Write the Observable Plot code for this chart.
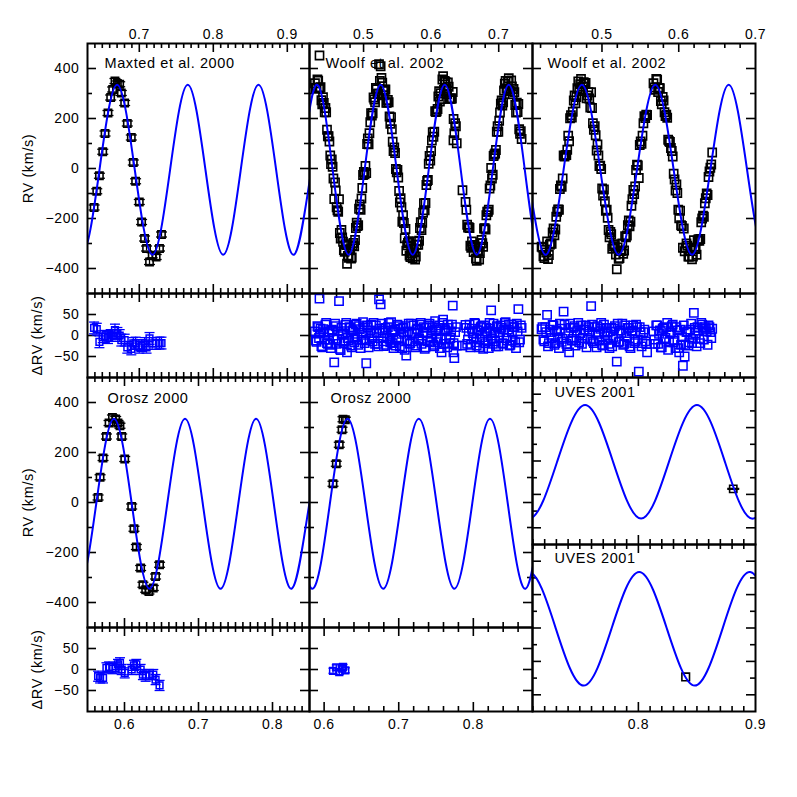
<!DOCTYPE html>
<html><head><meta charset="utf-8">
<script src="https://cdn.jsdelivr.net/npm/d3@7"></script>
<script src="https://cdn.jsdelivr.net/npm/@observablehq/plot@0.6"></script>
<style>
body{margin:0;background:#fff;}
#fig{position:relative;width:797px;height:797px;background:#fff;overflow:hidden;}
#fig svg{position:absolute;}
</style></head><body><div id="fig"></div>
<script>
// ---------- tick labels ----------
const rvLabels = [-400, -200, 0, 200, 400];
const rvMinor = [-300, -100, 100, 300];
const resLabels = [-50, 0, 50];
const topLabelsCol1 = [0.7, 0.8, 0.9];
const topLabelsCol2 = [0.5, 0.6, 0.7];
const topLabelsCol3 = [0.5, 0.6, 0.7];
const bottomLabelsCol1 = [0.6, 0.7, 0.8];
const bottomLabelsCol2 = [0.6, 0.7, 0.8];
const bottomLabelsCol3 = [0.8, 0.9];

// ---------- Maxted et al. 2000 ----------
const maxtedX = [0.6389,0.6425,0.6461,0.6506,0.6537,0.6577,0.6613,0.6640,0.6671,0.6704,0.6735,0.6757,0.6802,0.6838,0.6892,0.6919,0.6950,0.7000,0.7031,0.7071,0.7098,0.7138,0.7174,0.7228,0.7273,0.7300];
const maxtedRV = [-156,-91,-29,67,140,222,284,316,350,340,337,302,262,180,124,24,-51,-134,-214,-280,-320,-374,-347,-354,-320,-264];
const maxtedRes = [18,15,-15,-3,-2,-5,0,0,13,5,0,-11,-11,-28,-32,-19,-18,-28,-24,-19,-28,-7,-19,-19,-18,-18];
const maxtedErrRV = 10, maxtedErrRes = 14;

// ---------- Woolf et al. 2002 (middle column) ----------
const woolfAX = [0.4281,0.4305,0.4329,0.4352,0.4376,0.4400,0.4424,0.4447,0.4471,0.4495,0.4518,0.4542,0.4566,0.4589,0.4613,0.4637,0.4661,0.4684,0.4708,0.4732,0.4755,0.4779,0.4803,0.4826,0.4850,0.4874,0.4898,0.4921,0.4945,0.4969,0.4992,0.5016,0.5040,0.5063,0.5087,0.5111,0.5135,0.5158,0.5182,0.5206,0.5229,0.5253,0.5277,0.5300,0.5324,0.5348,0.5372,0.5395,0.5419,0.5443,0.5466,0.5490,0.5514,0.5537,0.5561,0.5585,0.5609,0.5632,0.5656,0.5680,0.5703,0.5727,0.5751,0.5774,0.5798,0.5822,0.5846,0.5869,0.5893,0.5917,0.5940,0.5964,0.5988,0.6011,0.6035,0.6059,0.6083,0.6106,0.6130,0.6154,0.6177,0.6201,0.6225,0.6248,0.6272,0.6296,0.6320,0.6343,0.6367,0.6509,0.6533,0.6557,0.6580,0.6604,0.6628,0.6651,0.6675,0.6699,0.6722,0.6746,0.6770,0.6794,0.6817,0.6841,0.6865,0.6888,0.6912,0.6936,0.6959,0.6983,0.7007,0.7031,0.7054,0.7078,0.7102,0.7125,0.7149,0.7173,0.7196,0.7220,0.7244,0.7268,0.7291,0.7315,0.7339,0.4348,0.6330,0.6464,
  0.4293,0.4317,0.4341,0.4364,0.4388,0.4412,0.4436,0.4459,0.4483,0.4507,0.4530,0.4554,0.4578,0.4601,0.4625,0.4649,0.4673,0.4696,0.4720,0.4744,0.4767,0.4791,0.4815,0.4838,0.4862,0.4886,0.4910,0.4933,0.4957,0.4981,0.5004,0.5028,0.5052,0.5075,0.5099,0.5123,0.5147,0.5170,0.5194,0.5218,0.5241,0.5265,0.5289,0.5312,0.5336,0.5360,0.5384,0.5407,0.5431,0.5455,0.5478,0.5502,0.5526,0.5549,0.5573,0.5597,0.5621,0.5644,0.5668,0.5692,0.5715,0.5739,0.5763,0.5786,0.5810,0.5834,0.5858,0.5881,0.5905,0.5929,0.5952,0.5976,0.6000,0.6023,0.6047,0.6071,0.6095,0.6118,0.6142,0.6166,0.6189,0.6213,0.6237,0.6260,0.6284,0.6308,0.6332,0.6355,0.6379,0.6521,0.6545,0.6569,0.6592,0.6616,0.6640,0.6663,0.6687,0.6711,0.6734,0.6758,0.6782,0.6806,0.6829,0.6853,0.6877,0.6900,0.6924,0.6948,0.6971,0.6995,0.7019,0.7043,0.7066,0.7090,0.7114,0.7137,0.7161,0.7185,0.7208,0.7232,0.7256,0.7280,0.7303,0.7327];
const woolfARV = [341,320,351,323,273,285,225,225,129,108,18,7,-122,-88,-167,-123,-280,-276,-326,-303,-381,-357,-323,-356,-298,-286,-217,-227,-144,-120,-26,-23,-18,120,141,221,221,276,322,298,417,409,343,293,316,264,265,179,157,70,62,-15,-36,-136,-155,-187,-279,-329,-298,-348,-313,-359,-335,-352,-292,-289,-215,-217,-139,-138,-50,19,32,112,127,229,229,288,268,278,369,350,321,344,280,280,306,141,169,-134,-225,-235,-309,-292,-334,-313,-369,-329,-338,-286,-313,-239,-187,-173,-80,2,-25,56,74,169,191,259,252,312,350,319,361,309,328,318,254,263,258,139,118,452,113,-87,
  322,356,320,325,257,262,242,155,129,52,36,-40,-56,-155,-173,-258,-246,-293,-333,-306,-350,-324,-360,-307,-311,-238,-230,-161,-165,-78,-14,10,98,97,185,212,284,265,317,300,350,362,312,315,263,274,208,205,107,84,-2,-6,-90,-119,-213,-218,-242,-307,-291,-354,-340,-320,-364,-305,-305,-238,-246,-177,-167,-66,-46,50,70,145,147,226,238,309,301,356,314,346,298,327,279,280,198,181,101,-165,-236,-238,-317,-313,-306,-360,-332,-364,-299,-299,-240,-244,-173,-165,-68,-40,50,60,147,147,224,272,265,339,320,348,310,352,297,305,224,226,157,149];
const woolfARes = [10,-15,20,5,-25,15,-10,30,-20,8,-30,12,-64,22,-8,82,-35,5,-18,25,-40,-12,18,-28,10,-5,28,-22,15,-10,32,-18,-66,20,-8,26,-14,6,24,-20,86,74,12,-25,18,-6,30,-16,8,-30,14,-10,22,-26,4,18,-34,-48,10,-20,28,-14,6,-24,16,-8,30,-12,20,-28,8,24,-16,12,-22,34,-6,18,-30,-40,38,15,-10,26,-18,10,71,-54,20,25,-20,10,-28,16,-6,28,-24,12,-10,22,-32,6,18,-14,30,60,-20,8,-26,20,-4,24,-18,14,32,-12,26,-22,10,20,-16,28,63,-10,18,88,-40,-24,
  -12,22,-6,16,-28,8,26,-18,4,-22,14,-8,28,-20,10,-32,18,2,-14,30,-6,20,-24,12,-16,26,-4,22,-30,6,18,-12,24,-28,12,-4,30,-20,8,-26,16,28,-14,6,-22,20,-8,32,-18,10,-24,26,-6,16,-30,8,22,-12,28,-18,4,24,-28,14,-10,26,-20,6,-32,18,-14,28,-4,20,-26,10,-16,24,-8,30,-20,12,-28,18,-6,26,-18,8,-24,18,-10,26,-22,6,30,-16,12,-28,20,-4,24,-18,10,-30,16,-8,28,-14,22,-26,8,18,-20,30,-6,14,-24,26,-12,20,-30,10,-16,24];

// ---------- Woolf et al. 2002 (right column) ----------
const woolfBX = [0.4213,0.4237,0.4261,0.4285,0.4309,0.4333,0.4357,0.4381,0.4404,0.4428,0.4452,0.4476,0.4500,0.4524,0.4548,0.4572,0.4596,0.4620,0.4643,0.4667,0.4691,0.4715,0.4739,0.4763,0.4787,0.4811,0.4835,0.4859,0.4882,0.4906,0.4930,0.4954,0.4978,0.5002,0.5026,0.5050,0.5074,0.5098,0.5121,0.5145,0.5169,0.5193,0.5217,0.5241,0.5265,0.5289,0.5313,0.5337,0.5360,0.5384,0.5408,0.5432,0.5456,0.5480,0.5504,0.5528,0.5552,0.5576,0.5671,0.5695,0.5719,0.5743,0.5767,0.5791,0.5815,0.5838,0.5862,0.5886,0.5910,0.5934,0.5958,0.5982,0.6006,0.6030,0.6054,0.6077,0.6101,0.6125,0.6149,0.6173,0.6197,0.6221,0.6245,0.6269,0.6293,0.6316,0.6340,0.6364,0.6388,0.6412,0.6436,
  0.4225,0.4249,0.4273,0.4297,0.4321,0.4345,0.4369,0.4393,0.4416,0.4440,0.4464,0.4488,0.4512,0.4536,0.4560,0.4584,0.4608,0.4632,0.4655,0.4679,0.4703,0.4727,0.4751,0.4775,0.4799,0.4823,0.4847,0.4871,0.4894,0.4918,0.4942,0.4966,0.4990,0.5014,0.5038,0.5062,0.5086,0.5110,0.5133,0.5157,0.5181,0.5205,0.5229,0.5253,0.5277,0.5301,0.5325,0.5349,0.5372,0.5396,0.5420,0.5444,0.5468,0.5492,0.5516,0.5540,0.5564,0.5588,0.5683,0.5707,0.5731,0.5755,0.5779,0.5803,0.5827,0.5850,0.5874,0.5898,0.5922,0.5946,0.5970,0.5994,0.6018,0.6042,0.6066,0.6089,0.6113,0.6137,0.6161,0.6185,0.6209,0.6233,0.6257,0.6281,0.6305,0.6328,0.6352,0.6376,0.6400,0.6424];
const woolfBRV = [-313,-351,-325,-292,-346,-300,-256,-267,-193,-164,-82,-73,52,53,75,109,213,227,292,286,348,337,315,345,342,292,280,305,181,169,72,52,11,-80,-84,-169,-197,-275,-263,-312,-306,-403,-361,-329,-300,-328,-275,-227,-231,-149,-86,-72,15,-38,108,131,209,215,341,315,355,322,270,286,225,215,115,106,70,-21,-88,-98,-199,-227,-317,-331,-300,-352,-327,-363,-287,-322,-288,-289,-215,-189,-139,-100,-34,3,64,
  -316,-358,-336,-362,-305,-301,-240,-244,-173,-165,-68,-40,48,54,131,201,204,272,261,321,310,358,328,340,281,305,244,242,155,133,96,10,-2,-108,-131,-165,-246,-254,-321,-303,-344,-316,-358,-330,-341,-271,-268,-208,-213,-123,-102,-6,12,94,99,181,202,214,324,358,306,321,257,272,210,203,109,82,48,-44,-64,-165,-169,-230,-240,-317,-309,-352,-316,-352,-318,-345,-283,-282,-200,-193,-119,-106,-12,16];
const woolfBRes = [15,-10,20,49,-18,8,25,-22,12,-5,28,-15,57,5,-25,-40,18,-8,22,-12,30,6,-20,14,24,-6,10,70,-14,20,-28,4,16,-22,26,-10,8,-30,18,-4,22,-62,-16,12,28,-20,6,18,-26,10,24,-14,20,-86,8,-18,14,-20,10,-20,24,4,-28,16,-10,20,-34,6,22,-16,-30,12,-40,-22,-72,-50,8,-24,14,-18,54,6,20,-8,30,16,20,10,24,8,16,
  20,-14,8,-26,14,-6,24,-18,10,-30,16,-8,26,-20,6,28,-12,18,-24,12,-16,24,-6,14,-28,20,-10,26,-18,8,22,-12,30,-24,4,18,-20,10,-26,16,-8,28,-14,6,-22,24,-4,18,-30,12,-18,26,-10,20,-26,8,-14,-40,-10,24,-20,12,-28,18,-6,30,-16,8,26,-12,20,-30,14,-4,24,-22,10,-16,28,-8,18,-26,12,-18,26,-10,16,-22,20,-6];

// ---------- Orosz 2000 ----------
const oroszAX = [0.5643,0.5670,0.5710,0.5756,0.5791,0.5837,0.5881,0.5912,0.5939,0.5962,0.6003,0.6097,0.6128,0.6160,0.6218,0.6249,0.6286,0.6330,0.6389,0.6420,0.6474];
const oroszARV = [20,101,178,264,318,340,334,318,307,264,174,-16,-105,-178,-262,-329,-349,-356,-342,-296,-249];
const oroszARes = [-16,-20,-20,4,6,2,4,12,16,0,-8,0,10,12,0,-12,-16,-12,-12,-24,-38];
const oroszBX = [0.6119,0.6163,0.6203,0.6240,0.6253,0.6284];
const oroszBRV = [75,155,231,291,333,331];
const oroszBRes = [-3,5,-6,2,6,-2];
const oroszErrRV = 10, oroszErrRes = 12;

// ---------- UVES 2001 ----------
const uvesAX = [0.881], uvesARV = [-167];
const uvesBX = [0.8404], uvesBRV = [-293];

// ---------- model curve key points (peaks, troughs, gamma crossings) ----------
const modelMaxtedX = [0.5985,0.6223,0.6462,0.6700,0.6939,0.7178,0.7416,0.7655,0.7894,0.8133,0.8371,0.8610,0.8849,0.9088,0.9326,0.9565];
const modelMaxtedRV = [-5,-345,-5,335,-5,-345,-5,335,-5,-345,-5,335,-5,-345,-5,335];
const modelWoolfAX = [0.3831,0.4068,0.4305,0.4542,0.4779,0.5016,0.5253,0.5490,0.5727,0.5964,0.6201,0.6438,0.6675,0.6912,0.7149,0.7386,0.7623,0.7860];
const modelWoolfARV = [-345,-5,335,-5,-345,-5,335,-5,-345,-5,335,-5,-345,-5,335,-5,-345,-5];
const modelWoolfBX = [0.3783,0.4022,0.4261,0.4500,0.4739,0.4978,0.5217,0.5456,0.5695,0.5934,0.6173,0.6412,0.6651,0.6890,0.7129,0.7368];
const modelWoolfBRV = [335,-5,-345,-5,335,-5,-345,-5,335,-5,-345,-5,335,-5,-345,-5];
const modelOroszAX = [0.5138,0.5378,0.5618,0.5858,0.6098,0.6338,0.6578,0.6818,0.7058,0.7298,0.7538,0.7778,0.8018,0.8258,0.8498,0.8738];
const modelOroszARV = [-5,-345,-5,335,-5,-345,-5,335,-5,-345,-5,335,-5,-345,-5,335];
const modelOroszBX = [0.5361,0.5600,0.5838,0.6077,0.6315,0.6554,0.6792,0.7031,0.7269,0.7508,0.7746,0.7985,0.8223,0.8462,0.8700,0.8939,0.9177];
const modelOroszBRV = [335,-5,-345,-5,335,-5,-345,-5,335,-5,-345,-5,335,-5,-345,-5,335];
const modelUvesAX = [0.6829,0.7068,0.7306,0.7545,0.7784,0.8023,0.8261,0.8500,0.8739,0.8978,0.9216,0.9455];
const modelUvesARV = [-5,-345,-5,335,-5,-345,-5,335,-5,-345,-5,335];
const modelUvesBX = [0.6585,0.6822,0.7059,0.7296,0.7533,0.7770,0.8007,0.8244,0.8481,0.8718,0.8955,0.9192,0.9429];
const modelUvesBRV = [-345,-5,335,-5,-345,-5,335,-5,-345,-5,335,-5,-345];

// ---------- helpers ----------
const fig = document.getElementById("fig");
const FONT = '"Liberation Sans", Arial, Helvetica, sans-serif';
const BLUE = "#0000ff";
const capSymbol = {draw(ctx, size) { const r = Math.sqrt(size / Math.PI); ctx.moveTo(-r, 0); ctx.lineTo(r, 0); }};
const zip = (xs, ys) => xs.map((x, i) => ({x, y: ys[i]}));

function curve(xs, ys) {
  return Plot.line(zip(xs, ys), {x: "x", y: "y", stroke: BLUE, strokeWidth: 2, curve: "natural", clip: true});
}
function squares(xs, ys, color, r, sw) {
  return Plot.dot(zip(xs, ys), {x: "x", y: "y", symbol: "square", r, stroke: color, fill: "none", strokeWidth: sw});
}
function errbars(xs, ys, err, color, capR, sw) {
  const pts = zip(xs, ys);
  const caps = pts.flatMap(p => [{x: p.x, y: p.y - err}, {x: p.x, y: p.y + err}]);
  return [
    Plot.ruleX(pts, {x: "x", y1: d => d.y - err, y2: d => d.y + err, stroke: color, strokeWidth: sw}),
    Plot.dot(caps, {x: "x", y: "y", symbol: capSymbol, r: capR, stroke: color, fill: "none", strokeWidth: sw})
  ];
}
function xTicks(domain, step) {
  const n = Math.round(0.1 / step);
  const lo = Math.ceil(domain[0] / step - 1e-6), hi = Math.floor(domain[1] / step + 1e-6);
  const major = [], minor = [];
  for (let i = lo; i <= hi; i++) {
    const v = +(i * step).toFixed(6);
    if (Math.abs(v - domain[0]) < 1e-4 || Math.abs(v - domain[1]) < 1e-4) continue;
    (i % n === 0 ? major : minor).push(v);
  }
  return {major, minor};
}

function panel(o) {
  const ml = 80, mr = 12, mt = 34, mb = 34;
  const W = o.w, H = o.h;
  const {major, minor} = xTicks(o.xd, o.xStep);
  const res = o.kind === "res";
  const yMajor = res ? resLabels : rvLabels;
  const yMinor = res ? [] : rvMinor;
  const tk = {stroke: "black", strokeWidth: 1.6};
  const marks = [
    Plot.tickX(major, {x: d => d, insetBottom: H - 9, ...tk}),
    Plot.tickX(major, {x: d => d, insetTop: H - 9, ...tk}),
    Plot.tickX(minor, {x: d => d, insetBottom: H - 5, ...tk}),
    Plot.tickX(minor, {x: d => d, insetTop: H - 5, ...tk}),
    Plot.tickY(yMajor, {y: d => d, insetRight: W - 9, ...tk}),
    Plot.tickY(yMajor, {y: d => d, insetLeft: W - 9, ...tk}),
    Plot.tickY(yMinor, {y: d => d, insetRight: W - 5, ...tk}),
    Plot.tickY(yMinor, {y: d => d, insetLeft: W - 5, ...tk}),
    ...o.marks,
    Plot.frame({stroke: "black", strokeWidth: 2})
  ];
  if (o.topLabels) marks.push(Plot.axisX({ticks: o.topLabels, anchor: "top", tickSize: 0, tickPadding: 5, label: null, tickFormat: d3.format(".1f")}));
  if (o.bottomLabels) marks.push(Plot.axisX({ticks: o.bottomLabels, anchor: "bottom", tickSize: 0, tickPadding: 8, label: null, tickFormat: d3.format(".1f")}));
  if (o.leftLabels) marks.push(Plot.axisY({ticks: o.leftLabels, anchor: "left", tickSize: 0, tickPadding: 8, label: null, tickFormat: d3.format("d")}));
  if (o.yTitle) marks.push(Plot.text([o.yTitle], {text: d => d, frameAnchor: "left", textAnchor: "middle", rotate: -90, dx: o.yTitleDx, fontSize: 14.5}));
  if (o.title) marks.push(Plot.text([o.title], {text: d => d, frameAnchor: "top-left", textAnchor: "start", lineAnchor: "middle", dx: o.tdx, dy: o.tdy, fontSize: 14.5}));
  const svg = Plot.plot({
    width: W + ml + mr, height: H + mt + mb,
    marginLeft: ml, marginRight: mr, marginTop: mt, marginBottom: mb,
    x: {domain: o.xd, axis: null},
    y: {domain: o.yd, axis: null},
    style: {fontFamily: FONT, fontSize: "14px", letterSpacing: "0.6px", background: "transparent", overflow: "visible", color: "black"},
    marks
  });
  svg.style.left = (o.left - ml) + "px";
  svg.style.top = (o.top - mt) + "px";
  fig.appendChild(svg);
}

const RV = [-500, 500], RES = [-100, 100];
const dA = [0.63, 0.93], dB = [0.42, 0.75], dC = [0.4095, 0.70];
const dD = [0.55, 0.85], dE = [0.5804, 0.8793], dF = [0.7096, 0.90];

// Row 1 RV
panel({left: 87, top: 43, w: 222, h: 250, xd: dA, yd: RV, xStep: 0.01, kind: "rv", topLabels: topLabelsCol1, leftLabels: rvLabels,
  yTitle: "RV (km/s)", yTitleDx: -59, title: "Maxted et al. 2000", tdx: 17, tdy: 20,
  marks: [...errbars(maxtedX, maxtedRV, maxtedErrRV, "black", 5.5, 1.3), squares(maxtedX, maxtedRV, "black", 4.1, 1.6), curve(modelMaxtedX, modelMaxtedRV)]});
panel({left: 309, top: 43, w: 223, h: 250, xd: dB, yd: RV, xStep: 0.02, kind: "rv", topLabels: topLabelsCol2,
  title: "Woolf et al. 2002", tdx: 16, tdy: 20,
  marks: [squares(woolfAX, woolfARV, "black", 4.6, 1.6), curve(modelWoolfAX, modelWoolfARV)]});
panel({left: 532, top: 43, w: 223, h: 250, xd: dC, yd: RV, xStep: 0.02, kind: "rv", topLabels: topLabelsCol3,
  title: "Woolf et al. 2002", tdx: 15, tdy: 20,
  marks: [squares(woolfBX, woolfBRV, "black", 4.6, 1.6), curve(modelWoolfBX, modelWoolfBRV)]});
// Row 1 residuals
panel({left: 87, top: 293, w: 222, h: 84, xd: dA, yd: RES, xStep: 0.01, kind: "res", leftLabels: resLabels,
  yTitle: "ΔRV (km/s)", yTitleDx: -50,
  marks: [...errbars(maxtedX, maxtedRes, maxtedErrRes, BLUE, 5, 1.3), squares(maxtedX, maxtedRes, BLUE, 3.8, 1.5)]});
panel({left: 309, top: 293, w: 223, h: 84, xd: dB, yd: RES, xStep: 0.02, kind: "res",
  marks: [squares(woolfAX, woolfARes, BLUE, 4.7, 1.5)]});
panel({left: 532, top: 293, w: 223, h: 84, xd: dC, yd: RES, xStep: 0.02, kind: "res",
  marks: [squares(woolfBX, woolfBRes, BLUE, 4.7, 1.5)]});
// Row 2 RV
panel({left: 87, top: 377, w: 222, h: 250, xd: dD, yd: RV, xStep: 0.01, kind: "rv", leftLabels: rvLabels,
  yTitle: "RV (km/s)", yTitleDx: -59, title: "Orosz 2000", tdx: 20, tdy: 21,
  marks: [...errbars(oroszAX, oroszARV, oroszErrRV, "black", 5.5, 1.3), squares(oroszAX, oroszARV, "black", 4.1, 1.6), curve(modelOroszAX, modelOroszARV)]});
panel({left: 309, top: 377, w: 223, h: 250, xd: dE, yd: RV, xStep: 0.02, kind: "rv",
  title: "Orosz 2000", tdx: 21, tdy: 21,
  marks: [...errbars(oroszBX, oroszBRV, oroszErrRV, "black", 5.5, 1.3), squares(oroszBX, oroszBRV, "black", 4.1, 1.6), curve(modelOroszBX, modelOroszBRV)]});
panel({left: 532, top: 377, w: 223, h: 167, xd: dF, yd: RV, xStep: 0.01, kind: "rv",
  title: "UVES 2001", tdx: 22, tdy: 15,
  marks: [...errbars(uvesAX, uvesARV, 3, "black", 6, 1.3), squares(uvesAX, uvesARV, "black", 4.1, 1.6), curve(modelUvesAX, modelUvesARV)]});
panel({left: 532, top: 544, w: 223, h: 167, xd: dF, yd: RV, xStep: 0.01, kind: "rv",
  bottomLabels: bottomLabelsCol3, title: "UVES 2001", tdx: 22, tdy: 14,
  marks: [squares(uvesBX, uvesBRV, "black", 4.3, 1.6), curve(modelUvesBX, modelUvesBRV)]});
// Row 2 residuals
panel({left: 87, top: 627, w: 222, h: 84, xd: dD, yd: RES, xStep: 0.01, kind: "res", leftLabels: resLabels, bottomLabels: bottomLabelsCol1,
  yTitle: "ΔRV (km/s)", yTitleDx: -50,
  marks: [...errbars(oroszAX, oroszARes, oroszErrRes, BLUE, 5, 1.3), squares(oroszAX, oroszARes, BLUE, 3.8, 1.5)]});
panel({left: 309, top: 627, w: 223, h: 84, xd: dE, yd: RES, xStep: 0.02, kind: "res", bottomLabels: bottomLabelsCol2,
  marks: [...errbars(oroszBX, oroszBRes, 6, BLUE, 4.5, 1.3), squares(oroszBX, oroszBRes, BLUE, 3.8, 1.5)]});
</script></body></html>
